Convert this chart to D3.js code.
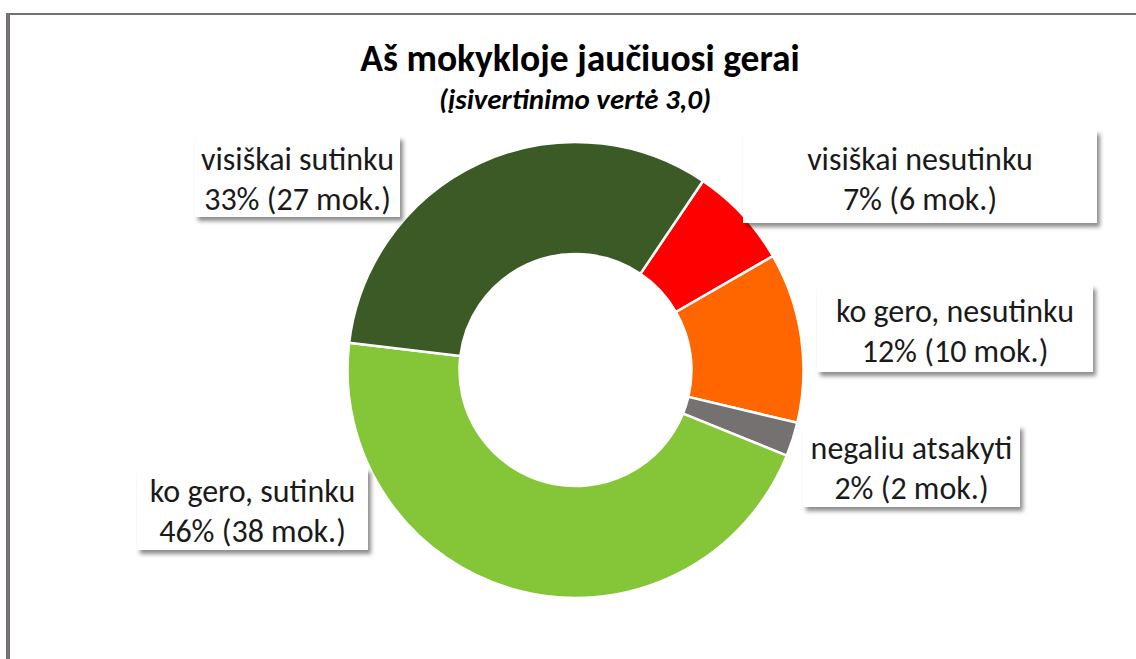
<!DOCTYPE html>
<html>
<head>
<meta charset="utf-8">
<script src="https://cdn.jsdelivr.net/npm/d3@7"></script>
<style>
  html, body { margin: 0; padding: 0; background: #fff; }
  svg { display: block; }
  text { font-family: Carlito, Calibri, Lato, sans-serif; }
</style>
</head>
<body>
<svg id="chart" width="1136" height="659"></svg>
<script>
// Answers, in the clockwise order the ring is drawn
const categories = [
  "visiškai nesutinku",
  "ko gero, nesutinku",
  "negaliu atsakyti",
  "ko gero, sutinku",
  "visiškai sutinku"
];
const students = [6, 10, 2, 38, 27];
const colors = ["#FF0000", "#FF6600", "#767171", "#84C638", "#3B5A26"];

const title = "Aš mokykloje jaučiuosi gerai";
const subtitle = "(įsivertinimo vertė 3,0)";

// Label boxes: [left, top, width, height]
const labelBoxes = [
  [743, 130, 354, 93],
  [817, 285, 276, 87],
  [803, 425, 217, 82],
  [137, 468, 231, 82],
  [195, 136, 205, 81]
];

const W = 1136, H = 659;
const cx = 575.5, cy = 370, outerR = 228, innerR = 116;
const firstAngle = 34 * Math.PI / 180;

const svg = d3.select("#chart");

// drop shadow behind label boxes
const defs = svg.append("defs");
const f = defs.append("filter").attr("id", "shadow")
  .attr("x", "-10%").attr("y", "-20%").attr("width", "130%").attr("height", "150%");
f.append("feDropShadow")
  .attr("dx", 3).attr("dy", 4).attr("stdDeviation", 2.2)
  .attr("flood-color", "#000").attr("flood-opacity", 0.45);

// chart frame (left and top edges)
svg.append("rect").attr("x", 6).attr("y", 13).attr("width", W - 6).attr("height", 2).attr("fill", "#767171");
svg.append("rect").attr("x", 6).attr("y", 13).attr("width", 4).attr("height", H - 13).attr("fill", "#767171");

// title
svg.append("text")
  .attr("x", 580).attr("y", 71)
  .attr("text-anchor", "middle")
  .attr("font-size", 37.5).attr("font-weight", "bold")
  .attr("fill", "#000")
  .text(title);
svg.append("text")
  .attr("x", 575).attr("y", 109)
  .attr("text-anchor", "middle")
  .attr("font-size", 29).attr("font-weight", "bold").attr("font-style", "italic")
  .attr("fill", "#000")
  .text(subtitle);

// ring
const total = d3.sum(students);
const pie = d3.pie().sort(null).value(d => d)
  .startAngle(firstAngle).endAngle(firstAngle + 2 * Math.PI);
const arc = d3.arc().innerRadius(innerR).outerRadius(outerR);
const arcs = pie(students);

const g = svg.append("g").attr("transform", `translate(${cx},${cy})`);
g.selectAll("path")
  .data(arcs)
  .join("path")
  .attr("d", arc)
  .attr("fill", (d, i) => colors[i])
  .attr("stroke", "#fff")
  .attr("stroke-width", 2.5)
  .attr("stroke-linejoin", "round");

// value labels
const fmtPct = v => Math.round(v / total * 100) + "%";
const labels = svg.append("g");
arcs.forEach((d, i) => {
  const [x, y, w, h] = labelBoxes[i];
  const lg = labels.append("g");
  lg.append("rect")
    .attr("x", x).attr("y", y).attr("width", w).attr("height", h)
    .attr("fill", "#fff")
    .attr("filter", "url(#shadow)");
  const t = lg.append("text")
    .attr("x", x + w / 2)
    .attr("y", y + h / 2 + 13)
    .attr("text-anchor", "middle")
    .attr("font-size", 32)
    .attr("fill", "#1a1a1a");
  t.append("tspan").attr("x", x + w / 2).attr("dy", -20).text(categories[i]);
  t.append("tspan").attr("x", x + w / 2).attr("dy", 40)
    .text(`${fmtPct(d.value)} (${d.value} mok.)`);
});
</script>
</body>
</html>
